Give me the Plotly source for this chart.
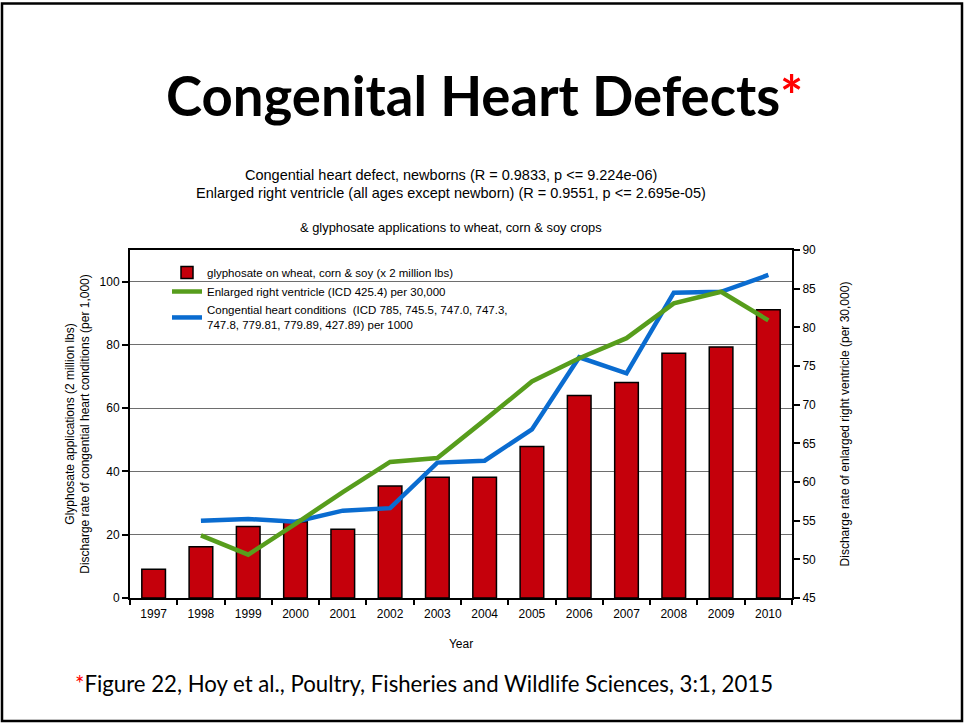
import plotly.graph_objects as go

# Data
years = [str(y) for y in range(1997, 2011)]
glyphosate = [9.1, 16.2, 22.6, 24.1, 21.7, 35.4, 38.2, 38.2, 47.9, 64.0, 68.1, 77.4, 79.3, 91.1]
line_years = years[1:]
enlarged_rv = [53.1, 50.6, 54.6, 58.7, 62.6, 63.1, 68.0, 73.0, 76.0, 78.6, 83.1, 84.6, 80.9]
congenital = [24.4, 25.0, 24.1, 27.6, 28.4, 42.8, 43.4, 53.3, 76.1, 71.0, 96.5, 96.8, 102.1]

FONT = "Liberation Sans, Arial, sans-serif"
HEAD = "Lato, Calibri, sans-serif"

fig = go.Figure()
fig.add_trace(go.Bar(
    x=years, y=glyphosate,
    name="glyphosate on wheat, corn &amp; soy (x 2 million lbs)",
    marker=dict(color="#C5000B", line=dict(color="black", width=1.5)),
    yaxis="y",
))
fig.add_trace(go.Scatter(
    x=line_years, y=enlarged_rv, mode="lines",
    name="Enlarged right ventricle (ICD 425.4) per 30,000",
    line=dict(color="#579D1C", width=4.5),
    yaxis="y2",
))
fig.add_trace(go.Scatter(
    x=line_years, y=congenital, mode="lines",
    name="Congential heart conditions  (ICD 785, 745.5, 747.0, 747.3,<br>747.8, 779.81, 779.89, 427.89) per 1000",
    line=dict(color="#0A6CD0", width=4.5),
    yaxis="y",
))

L, R, T, B = 130, 173, 250, 125
W, H = 965, 723
pw, ph = W - L - R, H - T - B


def px(x):
    return (x - L) / pw


def py(y):
    return (H - B - y) / ph


fig.update_layout(
    width=W, height=H,
    margin=dict(l=L, r=R, t=T, b=B),
    paper_bgcolor="white", plot_bgcolor="white",
    font=dict(family=FONT, size=12, color="black"),
    bargap=0.5,
    showlegend=True,
    legend=dict(
        x=px(167), y=py(258), xanchor="left", yanchor="top",
        bgcolor="rgba(0,0,0,0)", font=dict(size=11.5, family=FONT),
        itemwidth=30, tracegroupgap=0,
    ),
    xaxis=dict(
        type="category", showline=True, linecolor="black", linewidth=2,
        mirror=True, ticks="outside", tickson="boundaries", ticklen=5,
        tickcolor="black", tickwidth=2, showgrid=False,
        ticklabelstandoff=4,
        title=dict(text="Year", standoff=19, font=dict(size=12)),
        tickfont=dict(size=12),
    ),
    yaxis=dict(
        range=[0, 110], tickvals=[0, 20, 40, 60, 80, 100],
        showline=True, linecolor="black", linewidth=2,
        ticks="outside", ticklen=6, tickcolor="black", tickwidth=2,
        showgrid=True, gridcolor="#6e6e6e", gridwidth=1, zeroline=False,
        title=dict(text="Glyphosate applications (2 million lbs)<br>Discharge rate of congential heart conditions (per 1,000)",
                   standoff=7, font=dict(size=12)),
        tickfont=dict(size=12),
    ),
    yaxis2=dict(
        range=[45, 90], dtick=5, overlaying="y", side="right",
        showline=True, linecolor="black", linewidth=2,
        ticks="outside", ticklen=6, tickcolor="black", tickwidth=2,
        showgrid=False, zeroline=False,
        title=dict(text="Discharge rate of enlarged right ventricle (per 30,000)",
                   standoff=26, font=dict(size=12)),
        tickfont=dict(size=12),
    ),
)

annotations = [
    dict(text="<b>Congenital Heart Defects</b><span style='color:#FF0000'><b>*</b></span>",
         x=px(484), y=py(95), font=dict(family=HEAD, size=54.5, color="black")),
    dict(text="Congential heart defect, newborns (R = 0.9833, p <= 9.224e-06)",
         x=px(451), y=py(175), font=dict(size=14.5)),
    dict(text="Enlarged right ventricle (all ages except newborn) (R = 0.9551, p <= 2.695e-05)",
         x=px(451), y=py(193), font=dict(size=14.5)),
    dict(text="&amp; glyphosate applications to wheat, corn &amp; soy crops",
         x=px(451), y=py(228), font=dict(size=12.9)),
    dict(text="<span style='color:#FF0000'>*</span>Figure 22, Hoy et al., Poultry, Fisheries and Wildlife Sciences, 3:1, 2015",
         x=px(73), y=py(683), xanchor="left", font=dict(family=HEAD, size=22.2)),
]
for a in annotations:
    a.setdefault("xanchor", "center")
    a.update(xref="paper", yref="paper", yanchor="middle", showarrow=False)
fig.update_layout(annotations=annotations)

# slide frame
fig.add_shape(type="rect", xref="paper", yref="paper",
              x0=px(2), x1=px(962), y0=py(721), y1=py(3.5),
              line=dict(color="black", width=2.5), fillcolor="rgba(0,0,0,0)")

fig.write_html("out.html")
